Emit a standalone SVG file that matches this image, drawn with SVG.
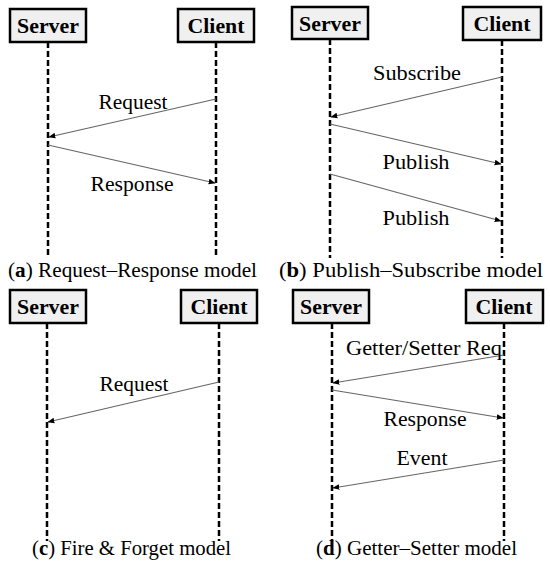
<svg xmlns="http://www.w3.org/2000/svg" width="550" height="577" viewBox="0 0 550 577" font-family="'Liberation Serif', 'Times New Roman', Times, 'DejaVu Serif', serif">
<defs>
<marker id="ah" viewBox="0 0 10 10" refX="9" refY="5" markerWidth="7" markerHeight="7" orient="auto" markerUnits="userSpaceOnUse">
<path d="M0,1 L10,5 L0,9 Z" fill="#000"/>
</marker>
<style>
.box{fill:#f0f0f0;stroke:#000;stroke-width:2.5}
.bt{font-weight:bold;font-size:22px;text-anchor:middle;fill:#000}
.life{stroke:#000;stroke-width:2.5;stroke-dasharray:6,3;fill:none}
.msg{stroke:#666;stroke-width:1.2;fill:none;marker-end:url(#ah)}
.lb{font-size:20px;text-anchor:middle;fill:#000}
.cap{font-size:20px;fill:#000}
</style>
</defs>
<rect width="550" height="577" fill="#fff"/>

<g id="lifelines">
<line class="life" x1="48" y1="42" x2="48" y2="255"/>
<line class="life" x1="216" y1="42" x2="216" y2="255"/>
<line class="life" x1="330" y1="39" x2="330" y2="258"/>
<line class="life" x1="502" y1="40" x2="502" y2="258"/>
<line class="life" x1="47" y1="323" x2="47" y2="541"/>
<line class="life" x1="219" y1="323" x2="219" y2="541"/>
<line class="life" x1="332" y1="323" x2="332" y2="541"/>
<line class="life" x1="504" y1="323" x2="504" y2="541"/>
</g>

<g id="a-server"><rect class="box" x="10" y="9" width="76" height="33"/><text class="bt" x="48" y="33" textLength="62" lengthAdjust="spacingAndGlyphs">Server</text></g>
<g id="a-client"><rect class="box" x="178" y="9" width="76" height="33"/><text class="bt" x="216" y="33" textLength="57" lengthAdjust="spacingAndGlyphs">Client</text></g>
<g id="b-server"><rect class="box" x="292" y="7" width="76" height="32"/><text class="bt" x="330" y="31" textLength="62" lengthAdjust="spacingAndGlyphs">Server</text></g>
<g id="b-client"><rect class="box" x="463" y="7" width="78" height="33"/><text class="bt" x="502" y="31" textLength="57" lengthAdjust="spacingAndGlyphs">Client</text></g>
<g id="c-server"><rect class="box" x="10" y="290" width="76" height="33"/><text class="bt" x="48" y="314" textLength="62" lengthAdjust="spacingAndGlyphs">Server</text></g>
<g id="c-client"><rect class="box" x="181" y="290" width="76" height="33"/><text class="bt" x="219" y="314" textLength="57" lengthAdjust="spacingAndGlyphs">Client</text></g>
<g id="d-server"><rect class="box" x="293" y="290" width="76" height="33"/><text class="bt" x="331" y="314" textLength="62" lengthAdjust="spacingAndGlyphs">Server</text></g>
<g id="d-client"><rect class="box" x="466" y="290" width="77" height="33"/><text class="bt" x="504" y="314" textLength="57" lengthAdjust="spacingAndGlyphs">Client</text></g>

<g id="connectors">
<line class="msg" x1="216" y1="99" x2="49" y2="137"/>
<line class="msg" x1="48" y1="145" x2="215" y2="183"/>
<line class="msg" x1="502" y1="77" x2="331" y2="117"/>
<line class="msg" x1="330" y1="124" x2="501" y2="164"/>
<line class="msg" x1="330" y1="174" x2="501" y2="221"/>
<line class="msg" x1="219" y1="382" x2="48" y2="422"/>
<line class="msg" x1="504" y1="355" x2="333" y2="383"/>
<line class="msg" x1="332" y1="390" x2="503" y2="418"/>
<line class="msg" x1="504" y1="460" x2="333" y2="488"/>
</g>

<g id="labels">
<text class="lb" x="133" y="109" textLength="69" lengthAdjust="spacingAndGlyphs">Request</text>
<text class="lb" x="132" y="191" textLength="83" lengthAdjust="spacingAndGlyphs">Response</text>
<text class="lb" x="417" y="80" textLength="88" lengthAdjust="spacingAndGlyphs">Subscribe</text>
<text class="lb" x="416" y="169" textLength="67" lengthAdjust="spacingAndGlyphs">Publish</text>
<text class="lb" x="416" y="225" textLength="67" lengthAdjust="spacingAndGlyphs">Publish</text>
<text class="lb" x="134" y="391" textLength="69" lengthAdjust="spacingAndGlyphs">Request</text>
<text class="lb" x="424" y="355" textLength="156" lengthAdjust="spacingAndGlyphs">Getter/Setter Req</text>
<text class="lb" x="425" y="426" textLength="83" lengthAdjust="spacingAndGlyphs">Response</text>
<text class="lb" x="422" y="465" textLength="51" lengthAdjust="spacingAndGlyphs">Event</text>
</g>

<g id="captions">
<text class="cap" x="8" y="277" textLength="249" lengthAdjust="spacingAndGlyphs">(<tspan font-weight="bold">a</tspan>) Request–Response model</text>
<text class="cap" x="279" y="277" textLength="264" lengthAdjust="spacingAndGlyphs">(<tspan font-weight="bold">b</tspan>) Publish–Subscribe model</text>
<text class="cap" x="32" y="555" textLength="199" lengthAdjust="spacingAndGlyphs">(<tspan font-weight="bold">c</tspan>) Fire &amp; Forget model</text>
<text class="cap" x="316" y="555" textLength="201" lengthAdjust="spacingAndGlyphs">(<tspan font-weight="bold">d</tspan>) Getter–Setter model</text>
</g>
</svg>
